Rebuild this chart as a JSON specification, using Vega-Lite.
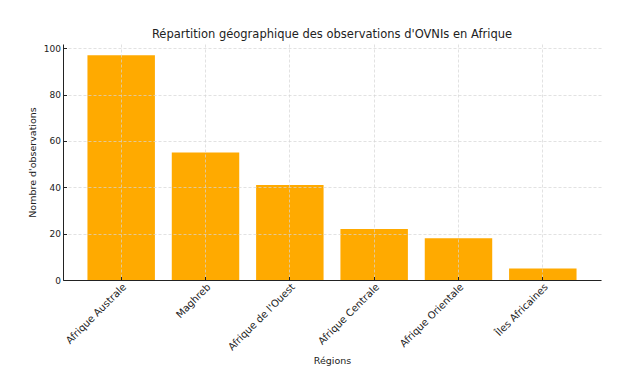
{
  "$schema": "https://vega.github.io/schema/vega-lite/v6.json",
  "autosize": "none",
  "width": 538,
  "height": 236,
  "padding": {"left": 63, "top": 44, "right": 29, "bottom": 111},
  "background": "white",
  "title": {
    "text": "Répartition géographique des observations d'OVNIs en Afrique",
    "font": "DejaVu Sans",
    "fontSize": 11.5,
    "fontWeight": "normal",
    "color": "#222",
    "anchor": "middle",
    "offset": 4
  },
  "data": {
    "values": [
      {"region": "Afrique Australe", "n": 97},
      {"region": "Maghreb", "n": 55},
      {"region": "Afrique de l'Ouest", "n": 41},
      {"region": "Afrique Centrale", "n": 22},
      {"region": "Afrique Orientale", "n": 18},
      {"region": "Îles Africaines", "n": 5}
    ]
  },
  "mark": {"type": "bar", "color": "#FFAA00"},
  "encoding": {
    "x": {
      "field": "region",
      "type": "nominal",
      "sort": null,
      "scale": {"paddingInner": 0.2, "paddingOuter": 0.29},
      "axis": {
        "title": "Régions",
        "labelAngle": -45,
        "labelAlign": "right",
        "labelBaseline": "top",
        "labelFontSize": 10,
        "labelPadding": 5,
        "bandPosition": 0.5,
        "grid": true,
        "zindex": 1,
        "titlePadding": 4
      }
    },
    "y": {
      "field": "n",
      "type": "quantitative",
      "scale": {"domain": [0, 101.85], "nice": false},
      "axis": {
        "title": "Nombre d'observations",
        "values": [0, 20, 40, 60, 80, 100],
        "grid": true,
        "zindex": 1,
        "labelPadding": 6,
        "titlePadding": 6
      }
    }
  },
  "config": {
    "view": {"stroke": null},
    "font": "DejaVu Sans",
    "axis": {
      "labelFont": "DejaVu Sans",
      "titleFont": "DejaVu Sans",
      "labelFontSize": 9,
      "titleFontSize": 9.5,
      "titleFontWeight": "normal",
      "labelColor": "#222",
      "titleColor": "#222",
      "domainColor": "#222",
      "domainWidth": 1,
      "tickColor": "#222",
      "tickSize": -3.5,
      "gridColor": "#d5d5d5",
      "gridDash": [3, 2],
      "gridWidth": 0.7
    }
  }
}
